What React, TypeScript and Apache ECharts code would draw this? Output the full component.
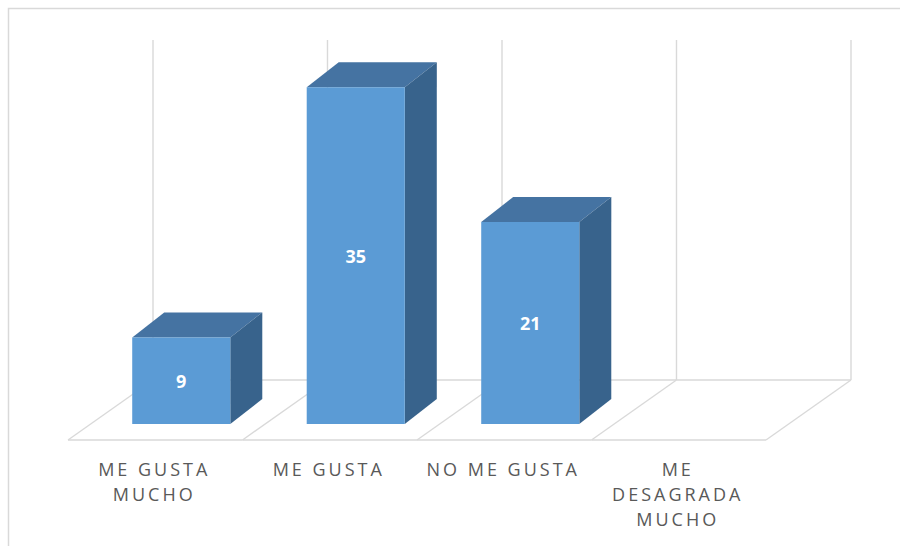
import React, { useEffect, useRef } from "react";
import * as echarts from "echarts";

const categories = ["ME GUSTA MUCHO", "ME GUSTA", "NO ME GUSTA", "ME DESAGRADA MUCHO"];
const tickLabels = ["ME GUSTA\nMUCHO", "ME GUSTA", "NO ME GUSTA", "ME\nDESAGRADA\nMUCHO"];
const values: (number | null)[] = [9, 35, 21, null];
const valueMin = 0;
const valueMax = 40;

export default function App() {
  const ref = useRef<HTMLDivElement>(null);

  useEffect(() => {
    if (!ref.current) return;
    const chart = echarts.init(ref.current, null, { renderer: "svg" });

    const FRONT = { dx: -26, dy: 16 };
    const BACK = { dx: 59, dy: -44 };
    const DEPTH = { dx: 32, dy: -25 };
    const gridColor = "#D9D9D9";
    const lineStyle = { stroke: gridColor, lineWidth: 1.4, fill: "none" };

    const floorItem = (params: any, api: any) => {
      const i = api.value(0);
      const [cx, y0] = api.coord([i, valueMin]);
      const yTop = api.coord([i, valueMax])[1];
      const size = api.size([1, 0])[0];
      const xL = cx - size / 2;
      const xR = cx + size / 2;
      const last = params.dataIndex === categories.length - 1;
      const children: any[] = [
        { type: "line", shape: { x1: xL + FRONT.dx, y1: y0 + FRONT.dy, x2: xR + FRONT.dx, y2: y0 + FRONT.dy }, style: lineStyle },
        { type: "line", shape: { x1: xL + BACK.dx, y1: y0 + BACK.dy, x2: xR + BACK.dx, y2: y0 + BACK.dy }, style: lineStyle },
        { type: "line", shape: { x1: xL + FRONT.dx, y1: y0 + FRONT.dy, x2: xL + BACK.dx, y2: y0 + BACK.dy }, style: lineStyle },
        { type: "line", shape: { x1: xL + BACK.dx, y1: y0 + BACK.dy, x2: xL + BACK.dx, y2: yTop + 1 }, style: lineStyle },
      ];
      if (last) {
        children.push(
          { type: "line", shape: { x1: xR + FRONT.dx, y1: y0 + FRONT.dy, x2: xR + BACK.dx, y2: y0 + BACK.dy }, style: lineStyle },
          { type: "line", shape: { x1: xR + BACK.dx, y1: y0 + BACK.dy, x2: xR + BACK.dx, y2: yTop + 1 }, style: lineStyle }
        );
      }
      children.push({
        type: "text",
        x: cx + FRONT.dx - 1,
        y: y0 + 32,
        style: {
          text: tickLabels[params.dataIndex],
          fill: "#595959",
          font: '18px "Open Sans"',
          align: "center",
          verticalAlign: "top",
          lineHeight: 25,
        },
      });
      return { type: "group", children };
    };

    const barItem = (params: any, api: any) => {
      const v = api.value(1);
      if (v == null || isNaN(v)) return null;
      const i = api.value(0);
      const [cx, yT] = api.coord([i, v]);
      const y0 = api.coord([i, valueMin])[1];
      const size = api.size([1, 0])[0];
      const w = size * 0.562;
      const xL = cx - w / 2;
      const xR = cx + w / 2;
      return {
        type: "group",
        children: [
          {
            type: "polygon",
            shape: { points: [[xL, yT], [xL + DEPTH.dx, yT + DEPTH.dy], [xR + DEPTH.dx, yT + DEPTH.dy], [xR, yT]] },
            style: { fill: "#4573A2" },
          },
          {
            type: "polygon",
            shape: { points: [[xR, yT], [xR + DEPTH.dx, yT + DEPTH.dy], [xR + DEPTH.dx, y0 + DEPTH.dy], [xR, y0]] },
            style: { fill: "#38638C" },
          },
          { type: "rect", shape: { x: xL, y: yT, width: w, height: y0 - yT }, style: { fill: "#5B9BD5" } },
          {
            type: "text",
            x: cx,
            y: (yT + y0) / 2,
            style: {
              text: String(v),
              fill: "#FFFFFF",
              font: 'bold 18px "Open Sans"',
              align: "center",
              verticalAlign: "middle",
            },
          },
        ],
      };
    };

    chart.setOption({
      animation: false,
      grid: { left: 94, right: 108, top: 39, bottom: 122 },
      xAxis: { type: "category", data: categories, show: false },
      yAxis: { type: "value", min: valueMin, max: valueMax, show: false, splitLine: { show: false } },
      graphic: [
        {
          type: "rect",
          silent: true,
          shape: { x: 8.5, y: 8.5, width: 1000, height: 1000 },
          style: { fill: "none", stroke: gridColor, lineWidth: 1.5 },
        },
      ],
      series: [
        {
          type: "custom",
          renderItem: floorItem,
          data: categories.map((c, i) => [i, 0]),
          z: 1,
          silent: true,
        },
        {
          type: "custom",
          renderItem: barItem,
          data: values.map((v, i) => [i, v == null ? "-" : v]),
          z: 2,
          silent: true,
        },
      ],
    });

    const lines = new Set(tickLabels.flatMap((t) => t.split("\n")));
    const applySpacing = () => {
      ref.current?.querySelectorAll("text").forEach((t) => {
        const s = (t.textContent || "").replace(/\s+/g, " ").trim();
        if (lines.has(s)) t.setAttribute("letter-spacing", "3");
      });
    };
    applySpacing();
    chart.on("finished", applySpacing);
    const timer = setTimeout(applySpacing, 50);

    return () => {
      clearTimeout(timer);
      chart.dispose();
    };
  }, []);

  return (
    <div
      ref={ref}
      style={{ position: "fixed", left: 0, top: 0, width: 900, height: 546, background: "#FFFFFF" }}
    />
  );
}
